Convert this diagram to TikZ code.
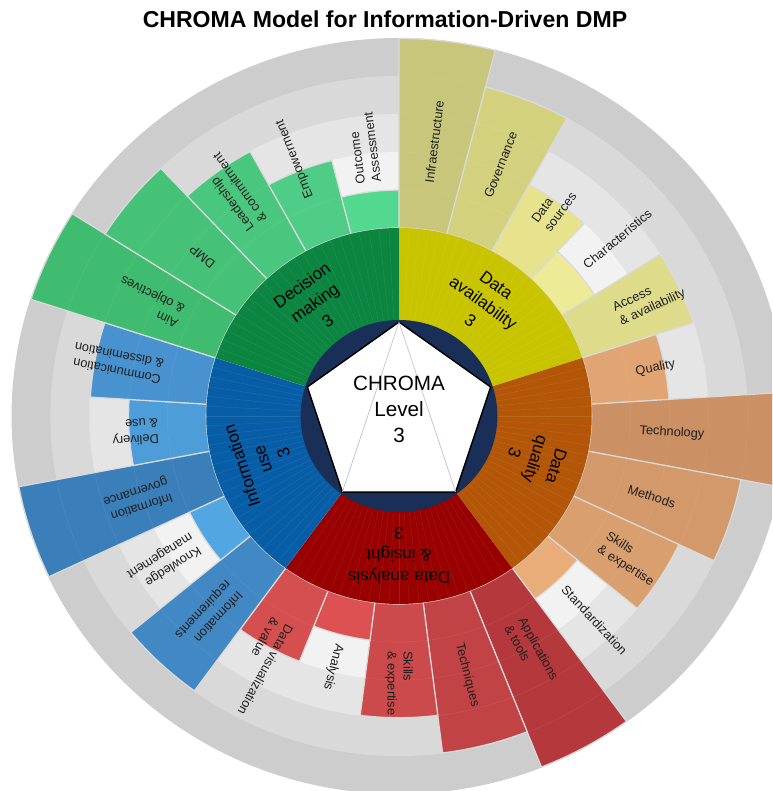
\documentclass[tikz,border=0pt]{standalone}
\usepackage{fontspec}
\setmainfont{Liberation Sans}

% category ring colours
\definecolor{navy}{HTML}{1A2F57}
\definecolor{cDM}{HTML}{0B8540}
\definecolor{cDA}{HTML}{C9C400}
\definecolor{cDQ}{HTML}{B35608}
\definecolor{cAI}{HTML}{990000}
\definecolor{cIU}{HTML}{075EA6}
% background level bands
\definecolor{bandA}{HTML}{F2F2F2}
\definecolor{bandB}{HTML}{E5E5E5}
\definecolor{bandC}{HTML}{D9D9D9}
\definecolor{bandD}{HTML}{CDCDCD}
% sub-dimension bars, shade by level
\definecolor{yA5}{HTML}{C8C67A}
\definecolor{yA4}{HTML}{D4D17E}
\definecolor{yA3}{HTML}{DEDB8B}
\definecolor{yA2}{HTML}{E6E38C}
\definecolor{yA1}{HTML}{EEEB98}
\definecolor{gA5}{HTML}{3FBC70}
\definecolor{gA4}{HTML}{45C277}
\definecolor{gA3}{HTML}{4AC77E}
\definecolor{gA2}{HTML}{4FCD86}
\definecolor{gA1}{HTML}{52D98F}
\definecolor{oA5}{HTML}{CB9064}
\definecolor{oA4}{HTML}{D4996A}
\definecolor{oA3}{HTML}{DA9F6E}
\definecolor{oA2}{HTML}{E0A572}
\definecolor{oA1}{HTML}{E8AD78}
\definecolor{rA5}{HTML}{B5393C}
\definecolor{rA4}{HTML}{C24346}
\definecolor{rA3}{HTML}{CC4A4C}
\definecolor{rA2}{HTML}{D54F50}
\definecolor{rA1}{HTML}{DD5152}
\definecolor{bA5}{HTML}{3B7FBA}
\definecolor{bA4}{HTML}{4288C4}
\definecolor{bA3}{HTML}{4893CF}
\definecolor{bA2}{HTML}{4D9DD8}
\definecolor{bA1}{HTML}{52A7E2}
\definecolor{pentline}{HTML}{B8BFCC}

% annular sector: style, start angle, end angle, inner radius, outer radius
\newcommand{\annsector}[5]{%
  \path[#1] (#2:#4) arc[start angle=#2, end angle=#3, radius=#4]
    -- (#3:#5) arc[start angle=#3, end angle=#2, radius=#5] -- cycle;}

\begin{document}
\begin{tikzpicture}[x=0.76875pt, y=0.75pt,
  seg/.style={draw=black!15, line width=0.9pt},
  sublabel/.style={font=\fontsize{9.6}{12}\selectfont, align=left, anchor=west,
    inner sep=0pt, text=black!88},
  catlabel/.style={font=\fontsize{12.75}{16.5}\selectfont, align=center, inner sep=0pt},
]
\useasboundingbox (-389.27,-375) rectangle (363.9,416);
\clip (-389.27,-375) rectangle (363.9,416);

% level bands behind the bars
\fill[bandD] (0,0) circle (378);
\fill[bandC] (0,0) circle (340);
\fill[bandB] (0,0) circle (302);
\fill[bandA] (0,0) circle (264);

% sub-dimension bars: mid angle / level / colour
\foreach \m/\lv/\col in {
   82.8/5/yA5, 68.4/4/yA4, 54/2/yA2, 39.6/1/yA1, 25.2/3/yA3,
   10.8/2/oA2, -3.6/5/oA5, -18/4/oA4, -32.4/3/oA3, -46.8/1/oA1,
   -61.2/5/rA5, -75.6/4/rA4, -90/3/rA3, -104.4/1/rA1, -118.8/2/rA2,
   -133.2/4/bA4, -147.6/1/bA1, -162/5/bA5, -176.4/2/bA2, -190.8/3/bA3,
   154.8/5/gA5, 140.4/4/gA4, 126/3/gA3, 111.6/2/gA2, 97.2/1/gA1}{
  \pgfmathsetmacro\aS{\m+7.2}
  \pgfmathsetmacro\aE{\m-7.2}
  \pgfmathsetmacro\rO{188+37.9*\lv}
  \annsector{seg, fill=\col}{\aS}{\aE}{188}{\rO}
}

% faint level rings
\foreach \r in {226,264,302,340}
  \draw[white, opacity=0.06, line width=0.6pt] (0,0) circle (\r);

% category ring
\annsector{fill=cDA}{90}{18}{95}{188}
\annsector{fill=cDQ}{18}{-54}{95}{188}
\annsector{fill=cAI}{-54}{-126}{95}{188}
\annsector{fill=cIU}{-126}{-198}{95}{188}
\annsector{fill=cDM}{162}{90}{95}{188}
\foreach \a in {0,3,...,357}
  \draw[white, opacity=0.1, line width=0.3pt] (\a:97) -- (\a:188);

% centre disc and pentagon
\fill[navy] (0,0) circle (96);
\coordinate (p1) at (90:94);
\coordinate (p2) at (18:94);
\coordinate (p3) at (-54:94);
\coordinate (p4) at (-126:94);
\coordinate (p5) at (162:94);
\draw[fill=white, line width=1.1pt, line join=miter] (p1) -- (p2) -- (p3) -- (p4) -- (p5) -- cycle;
\draw[pentline, line width=0.45pt] (p4) -- (p1) -- (p3);
\node[font=\fontsize{15.5}{19.5}\selectfont, align=center, inner sep=0pt] (centre) at (0,7) {CHROMA\\Level\\3};

% category labels
\node[catlabel, rotate=-36] (labDA) at (54:140) {Data\\availability\\3};
\node[catlabel, rotate=-108] (labDQ) at (-18:140) {Data\\quality\\3};
\node[catlabel, rotate=180] (labAI) at (-90:140) {Data analysis\\\& insight\\3};
\node[catlabel, rotate=108] (labIU) at (-162:140) {Information\\use\\3};
\node[catlabel, rotate=36] (labDM) at (126:140) {Decision\\making\\3};

% sub-dimension labels
\node[sublabel, rotate=82.8] (sInfra) at (82.8:235) {Infraestructure};
\node[sublabel, rotate=68.4] (sGov) at (68.4:235) {Governance};
\node[sublabel, rotate=54] (sSrc) at (54:235) {Data\\sources};
\node[sublabel, rotate=39.6] (sChar) at (39.6:235) {Characteristics};
\node[sublabel, rotate=25.2] (sAcc) at (25.2:235) {Access\\\& availability};
\node[sublabel, rotate=10.8] (sQual) at (10.8:235) {Quality};
\node[sublabel, rotate=-3.6] (sTech) at (-3.6:235) {Technology};
\node[sublabel, rotate=-18] (sMeth) at (-18:235) {Methods};
\node[sublabel, rotate=-32.4] (sSkQ) at (-32.4:235) {Skills\\\& expertise};
\node[sublabel, rotate=-46.8] (sStd) at (-46.8:235) {Standardization};
\node[sublabel, rotate=-61.2] (sApp) at (-61.2:235) {Applications\\\& tools};
\node[sublabel, rotate=-75.6] (sTechn) at (-75.6:235) {Techniques};
\node[sublabel, rotate=-90] (sSkA) at (-90:235) {Skills\\\& expertise};
\node[sublabel, rotate=-104.4] (sAna) at (-104.4:235) {Analysis};
\node[sublabel, rotate=-118.8] (sVis) at (-118.8:235) {Data visualization\\\& value};
\node[sublabel, rotate=-133.2] (sReq) at (-133.2:235) {Information\\requirements};
\node[sublabel, rotate=-147.6] (sKnow) at (-147.6:235) {Knowledge\\management};
\node[sublabel, rotate=-162] (sIGov) at (-162:235) {Information\\governance};
\node[sublabel, rotate=-176.4] (sDel) at (-176.4:235) {Delivery\\\& use};
\node[sublabel, rotate=-190.8] (sCom) at (-190.8:235) {Communication\\\& dissemination};
\node[sublabel, rotate=154.8] (sAim) at (154.8:235) {Aim\\\& objectives};
\node[sublabel, rotate=140.4] (sDMP) at (140.4:235) {DMP};
\node[sublabel, rotate=126] (sLead) at (126:235) {Leadership\\\& commitment};
\node[sublabel, rotate=111.6] (sEmp) at (111.6:235) {Empowerment};
\node[sublabel, rotate=97.2] (sOut) at (97.2:235) {Outcome\\Assessment};

% title
\node[font=\bfseries\fontsize{17.3}{20}\selectfont, inner sep=0pt] (title) at (-13.7,397) {CHROMA Model for Information-Driven DMP};
\end{tikzpicture}
\end{document}
